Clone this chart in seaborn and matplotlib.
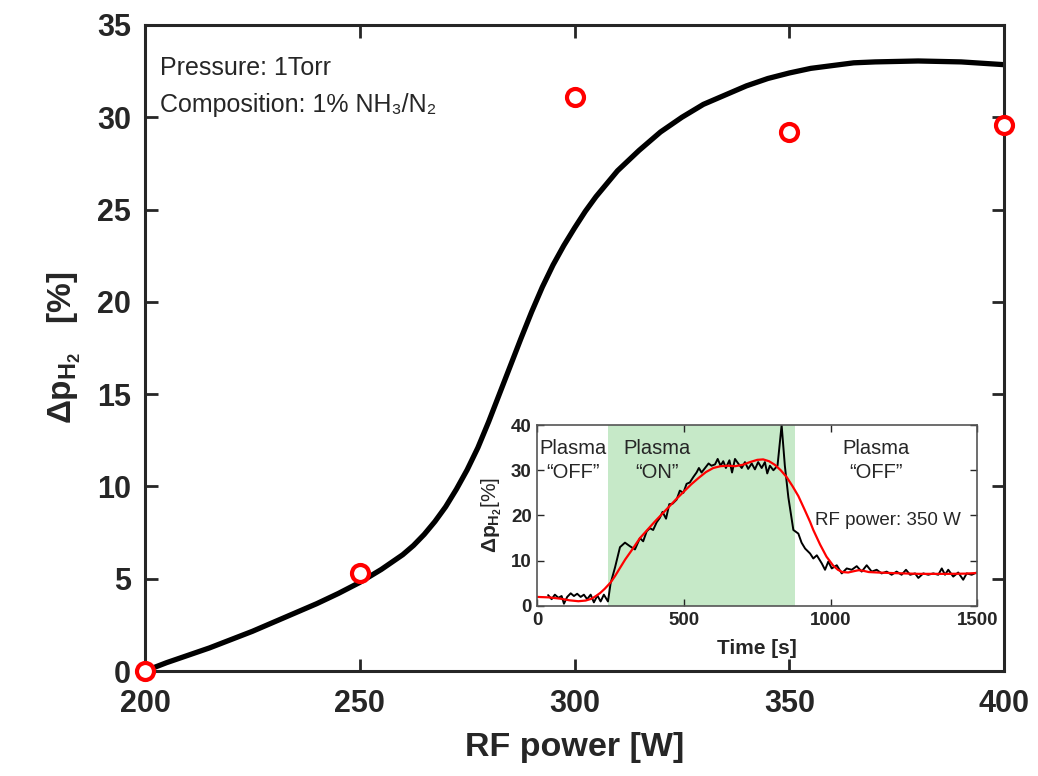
import numpy as np
import pandas as pd
import matplotlib
matplotlib.use('Agg')
import matplotlib.pyplot as plt
import seaborn as sns

sns.set_style('ticks')
plt.rcParams['font.family'] = ['Liberation Sans', 'DejaVu Sans']
plt.rcParams['mathtext.fontset'] = 'custom'
plt.rcParams['mathtext.rm'] = 'Liberation Sans'
plt.rcParams['mathtext.bf'] = 'Liberation Sans:bold'
plt.rcParams['mathtext.it'] = 'Liberation Sans:italic'

# main panel: measured points
power_meas = [200, 250, 300, 350, 400]
dp_meas = [0.0, 5.3, 31.1, 29.2, 29.6]

# main panel: fitted curve
power_fit = [200, 205, 210, 215, 220, 225, 230, 235, 240, 245, 250, 255, 260, 262.5, 265,
             267.5, 270, 272.5, 275, 277.5, 280, 282.5, 285, 287.5, 290, 292.5, 295, 297.5,
             300, 302.5, 305, 307.5, 310, 315, 320, 325, 330, 335, 340, 345, 350, 355, 360,
             365, 370, 380, 390, 400]
dp_fit = [0.0, 0.45, 0.85, 1.25, 1.7, 2.15, 2.65, 3.15, 3.65, 4.2, 4.8, 5.5, 6.3, 6.8, 7.4,
          8.1, 8.9, 9.85, 10.9, 12.1, 13.5, 15.0, 16.5, 18.0, 19.45, 20.8, 22.0, 23.05,
          24.0, 24.9, 25.7, 26.4, 27.1, 28.2, 29.2, 30.0, 30.7, 31.2, 31.7, 32.1, 32.4, 32.65, 32.8,
          32.95, 33.0, 33.05, 33.0, 32.85]

# inset: raw time trace
t_raw = [37, 49, 60, 72, 83, 91, 102, 114, 125, 136, 148, 159, 170, 182, 193, 205, 216, 227,
         241, 250, 265, 282, 299, 316, 333, 350, 361, 373, 384, 395, 407, 418, 427, 439, 450,
         461, 475, 486, 498, 509, 520, 532, 543, 551, 560, 572, 584, 594, 606, 615, 625, 634,
         643, 655, 664, 674, 685, 697, 708, 719, 731, 742, 753, 765, 776, 784, 793, 805, 819,
         833, 844, 856, 873, 890, 901, 913, 930, 941, 953, 970, 981, 992, 1004, 1021, 1038,
         1055, 1072, 1089, 1106, 1123, 1140, 1157, 1174, 1191, 1208, 1225, 1242, 1257, 1271,
         1288, 1299, 1316, 1333, 1350, 1367, 1379, 1390, 1401, 1418, 1435, 1452, 1464, 1481, 1498]
dp_raw = [2.4, 1.5, 2.5, 1.8, 2.2, 0.5, 2.0, 2.8, 2.2, 2.7, 2.0, 2.5, 1.5, 2.5, 0.8, 2.3, 1.0, 2.5,
          1.0, 5.0, 8.5, 13.0, 14.0, 13.2, 12.5, 15.0, 14.3, 16.5, 17.2, 16.8, 18.5, 19.5, 20.8, 19.3, 22.5,
          22.6, 23.5, 25.5, 25.0, 27.0, 27.3, 28.5, 29.5, 30.5, 29.5, 30.5, 31.5, 31.0, 31.3, 32.5, 31.0, 32.0,
          30.5, 32.2, 29.5, 32.5, 31.5, 30.5, 31.8, 30.3, 31.5, 30.2, 31.8, 30.5, 31.8, 29.3, 31.0, 30.0, 31.0,
          40.0, 31.0, 24.0, 16.8, 16.0, 14.0, 12.7, 11.6, 10.5, 11.2, 9.4, 8.0, 9.8, 8.3, 9.0, 7.2,
          8.3, 8.0, 8.8, 7.6, 9.0, 7.6, 8.0, 7.2, 7.6, 6.9, 7.6, 6.9, 8.0, 6.9,
          7.2, 6.2, 7.2, 6.9, 7.2, 6.9, 8.3, 6.9, 8.0, 6.5, 7.4, 5.8, 7.2, 6.9, 7.4]

# inset: smoothed trace
t_smooth = [0, 40, 80, 110, 140, 165, 185, 200, 215, 230, 250, 265, 280, 300, 325, 350, 375,
            400, 425, 450, 475, 500, 525, 550, 575, 600, 625, 650, 675, 700, 725, 750, 770,
            790, 810, 830, 850, 870, 890, 912, 930, 941, 964, 986, 1009, 1025, 1040, 1060,
            1080, 1095, 1110, 1130, 1160, 1200, 1300, 1400, 1460, 1500]
dp_smooth = [2.0, 1.9, 1.6, 1.25, 1.05, 1.2, 1.6, 2.2, 2.9, 3.8, 5.2, 6.6, 8.2, 10.3, 12.6, 15.0, 16.8,
             18.6, 20.3, 22.0, 23.7, 25.3, 26.9, 28.3, 29.6, 30.5, 30.9, 31.0, 30.9, 31.2, 31.8, 32.3, 32.4,
             32.0, 31.2, 30.0, 28.5, 26.5, 24.3, 21.2, 18.6, 16.8, 13.6, 10.9, 8.9, 8.0, 7.5, 7.4,
             7.7, 7.9, 7.8, 7.5, 7.4, 7.3, 7.1, 7.1, 7.15, 7.3]

plasma_on = (241, 878)

spine_c = '#262626'

fig = plt.figure(figsize=(10.38, 7.76), dpi=100)
ax = fig.add_axes([0.1397, 0.1353, 0.8276, 0.8325])

sns.lineplot(x=power_fit, y=dp_fit, ax=ax, color='black', linewidth=3.8, sort=False)
ax.lines[-1].set_solid_joinstyle('round')
sns.scatterplot(x=power_meas, y=dp_meas, ax=ax, marker='o', s=150, facecolor='white',
                edgecolor='#ff0000', linewidth=3, zorder=5, clip_on=False)

ax.set_xlim(200, 400)
ax.set_ylim(0, 35)
ax.set_xticks([200, 250, 300, 350, 400])
ax.set_yticks(range(0, 36, 5))
ax.tick_params(direction='in', length=9, width=2, colors=spine_c, labelsize=22,
               top=True, right=True)
ax.tick_params(axis='x', pad=13)
ax.tick_params(axis='y', pad=10)
for lab in ax.get_xticklabels() + ax.get_yticklabels():
    lab.set_fontweight('bold')
for sp in ax.spines.values():
    sp.set_visible(True)
    sp.set_linewidth(2.2)
    sp.set_color(spine_c)
ax.set_xlabel('RF power [W]', fontsize=24.5, fontweight='bold', color=spine_c)
ax.xaxis.set_label_coords(0.5, -0.095)
ax.set_ylabel(r'$\mathbf{\Delta p}_{\mathbf{H}_{\mathbf{2}}}$   [%]', fontsize=24,
              fontweight='bold', color=spine_c)
ax.yaxis.set_label_coords(-0.072, 0.5)

ax.text(0.0175, 0.933, 'Pressure: 1Torr', transform=ax.transAxes, fontsize=18, va='center')
ax.text(0.0175, 0.876, 'Composition: 1% NH\u2083/N\u2082', transform=ax.transAxes,
        fontsize=18, va='center')

# inset
ins = fig.add_axes([0.5176, 0.2191, 0.4239, 0.2332])
ins.axvspan(plasma_on[0], plasma_on[1], color='#c6e9c8', lw=0, zorder=0)
sns.lineplot(x=t_raw, y=dp_raw, ax=ins, color='black', linewidth=1.4, sort=False)
sns.lineplot(x=t_smooth, y=dp_smooth, ax=ins, color='#ff0000', linewidth=1.6, sort=False)
ins.set_xlim(0, 1500)
ins.set_ylim(0, 40)
ins.set_xticks([0, 500, 1000, 1500])
ins.set_yticks([0, 10, 20, 30, 40])
ins.tick_params(direction='in', length=5, width=1, colors=spine_c, labelsize=13.5,
                top=True, right=True, pad=4)
for lab in ins.get_xticklabels() + ins.get_yticklabels():
    lab.set_fontweight('bold')
for sp in ins.spines.values():
    sp.set_visible(True)
    sp.set_linewidth(1.2)
    sp.set_color('#555555')
ins.set_xlabel('Time [s]', fontsize=15, fontweight='bold', color=spine_c)
ins.xaxis.set_label_coords(0.5, -0.18)
ins.set_ylabel(r'$\mathbf{\Delta p}_{\mathbf{H}_{\mathbf{2}}}$[%]', fontsize=15, color=spine_c)
ins.yaxis.set_label_coords(-0.075, 0.5)

ins.text(122, 34.8, 'Plasma', ha='center', va='center', fontsize=14.5)
ins.text(122, 29.4, '\u201cOFF\u201d', ha='center', va='center', fontsize=14.5)
ins.text(407, 34.8, 'Plasma', ha='center', va='center', fontsize=14.5)
ins.text(407, 29.4, '\u201cON\u201d', ha='center', va='center', fontsize=14.5)
ins.text(1154, 34.8, 'Plasma', ha='center', va='center', fontsize=14.5)
ins.text(1154, 29.4, '\u201cOFF\u201d', ha='center', va='center', fontsize=14.5)
ins.text(1194, 19.0, 'RF power: 350 W', ha='center', va='center', fontsize=13.5)

fig.savefig('out.png', dpi=100)
